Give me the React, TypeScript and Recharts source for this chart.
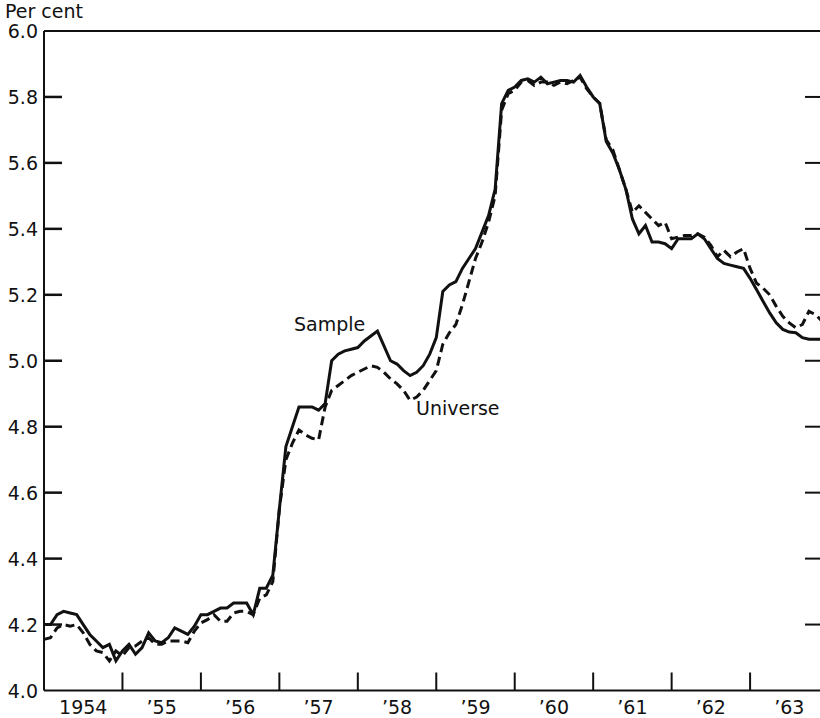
import React from "react";
import { LineChart, Line, XAxis, YAxis, ReferenceLine } from "recharts";

// monthly yields, Jan 1954 .. Dec 1963
const sample = [
  4.2, 4.2, 4.23, 4.24, 4.235, 4.23, 4.2, 4.17, 4.15, 4.13, 4.14, 4.09,
  4.12, 4.14, 4.11, 4.13, 4.175, 4.15, 4.145, 4.16, 4.19, 4.18, 4.17, 4.195,
  4.23, 4.23, 4.24, 4.25, 4.25, 4.265, 4.265, 4.265, 4.23, 4.31, 4.31, 4.35,
  4.55, 4.74, 4.8, 4.86, 4.86, 4.86, 4.85, 4.87, 5.0, 5.02, 5.03, 5.035,
  5.04, 5.06, 5.075, 5.09, 5.045, 5.0, 4.99, 4.97, 4.955, 4.965, 4.985, 5.02,
  5.07, 5.21, 5.23, 5.24, 5.28, 5.31, 5.34, 5.39, 5.44, 5.52, 5.78, 5.82,
  5.83, 5.85, 5.855, 5.845, 5.86, 5.84, 5.845, 5.85, 5.85, 5.845, 5.865, 5.83,
  5.8, 5.78, 5.665, 5.63, 5.58, 5.52, 5.43, 5.385, 5.41, 5.36, 5.36, 5.355,
  5.34, 5.37, 5.37, 5.37, 5.385, 5.37, 5.34, 5.31, 5.295, 5.29, 5.285, 5.28,
  5.25, 5.215, 5.18, 5.145, 5.115, 5.095, 5.087, 5.085, 5.07, 5.065, 5.065, 5.065,
];

const universe = [
  4.155, 4.16, 4.19, 4.2, 4.195, 4.2, 4.175, 4.14, 4.12, 4.115, 4.09, 4.12,
  4.105, 4.13, 4.135, 4.15, 4.16, 4.14, 4.14, 4.15, 4.15, 4.15, 4.145, 4.18,
  4.205, 4.215, 4.23, 4.21, 4.21, 4.235, 4.24, 4.24, 4.23, 4.28, 4.29, 4.33,
  4.55, 4.7, 4.75, 4.79, 4.775, 4.765, 4.76, 4.86, 4.91, 4.925, 4.94, 4.955,
  4.965, 4.975, 4.985, 4.98, 4.965, 4.945, 4.93, 4.91, 4.88, 4.89, 4.91, 4.94,
  4.97, 5.05, 5.085, 5.11, 5.17, 5.24, 5.31, 5.36, 5.42, 5.5, 5.76, 5.81,
  5.82, 5.845, 5.85, 5.835, 5.845, 5.845, 5.835, 5.845, 5.84, 5.85, 5.86, 5.825,
  5.8, 5.78, 5.67, 5.64, 5.58, 5.52, 5.45, 5.47, 5.45, 5.43, 5.41, 5.42,
  5.37, 5.375, 5.38, 5.38, 5.385, 5.375, 5.35, 5.315, 5.335, 5.315, 5.33, 5.34,
  5.28, 5.235, 5.22, 5.2, 5.165, 5.135, 5.115, 5.1, 5.11, 5.15, 5.14, 5.12,
];

const yearLabels = ["1954", "\u201955", "\u201956", "\u201957", "\u201958", "\u201959", "\u201960", "\u201961", "\u201962", "\u201963"];
const yTicks = [4.0, 4.2, 4.4, 4.6, 4.8, 5.0, 5.2, 5.4, 5.6, 5.8, 6.0];

const data = sample.map((s, i) => ({ m: i, sample: s, universe: universe[i] }));

const LAST = sample.length - 1;
const yearStarts = yearLabels.map((_, k) => k * 12).filter((v) => v > 0);
const yearMids = yearLabels.map((_, k) => k * 12 + 6);
const innerTicks = yTicks.slice(1, -1);

const FONT = "'DejaVu Sans', sans-serif";
const INK = "#111";

const axisLine = { stroke: INK, strokeWidth: 2 };
const tickLine = { stroke: INK, strokeWidth: 2 };

const YearLabel = ({ x, y, payload }: any) => (
  <text x={x} y={y + 22} textAnchor="middle" fontFamily={FONT} fontSize={19} fill={INK}>
    {yearLabels[Math.floor(payload.value / 12)]}
  </text>
);

// label plus an inward tick mark drawn as a filled rect
const YLabel = ({ x, y, payload }: any) => {
  const v = payload.value;
  const inner = v > 4.05 && v < 5.95;
  return (
    <g>
      {inner && <rect x={x} y={y - 1.25} width={18} height={2.5} fill={INK} stroke="none" />}
      <text x={x - 6} y={y + 7} textAnchor="end" fontFamily={FONT} fontSize={19} fill={INK}>
        {v.toFixed(1)}
      </text>
    </g>
  );
};

const NoLabel = () => <g />;

const textStyle: React.CSSProperties = {
  position: "absolute",
  fontFamily: FONT,
  fontSize: 19,
  lineHeight: "19px",
  color: INK,
  whiteSpace: "nowrap",
};

export default function App() {
  return (
    <div style={{ position: "absolute", left: 0, top: 0, width: 820, height: 718, overflow: "hidden", background: "#fff" }}>
      <LineChart width={830} height={718} data={data} margin={{ top: 30, right: 0, bottom: 0, left: 0 }}>
        {/* year boundary ticks, pointing up */}
        <XAxis
          xAxisId="b"
          dataKey="m"
          type="number"
          domain={[0, LAST]}
          ticks={yearStarts}
          tick={<NoLabel />}
          tickLine={tickLine}
          tickSize={-18}
          tickMargin={0}
          height={1}
          axisLine={axisLine}
          interval={0}
        />
        {/* year labels, mid-year */}
        <XAxis
          xAxisId="lbl"
          dataKey="m"
          type="number"
          domain={[0, LAST]}
          ticks={yearMids}
          tick={<YearLabel />}
          tickLine={false}
          tickSize={0}
          tickMargin={0}
          height={26.5}
          axisLine={false}
          interval={0}
        />
        <XAxis
          xAxisId="t"
          orientation="top"
          dataKey="m"
          type="number"
          domain={[0, LAST]}
          ticks={[]}
          tick={false}
          tickLine={false}
          height={1}
          axisLine={axisLine}
        />
        <YAxis
          yAxisId="l"
          type="number"
          domain={[4, 6]}
          ticks={yTicks}
          tick={<YLabel />}
          tickLine={false}
          tickSize={0}
          tickMargin={0}
          width={44}
          axisLine={axisLine}
          interval={0}
        />
        <YAxis
          yAxisId="r"
          orientation="right"
          type="number"
          domain={[4, 6]}
          ticks={[]}
          tick={false}
          tickLine={false}
          width={8}
          axisLine={axisLine}
        />
        {innerTicks.map((v) => (
          <ReferenceLine
            key={`r${v}`}
            xAxisId="b"
            yAxisId="l"
            segment={[{ x: LAST - 2.6, y: v }, { x: LAST, y: v }]}
            stroke={INK}
            strokeWidth={2}
            ifOverflow="visible"
          />
        ))}
        <Line
          xAxisId="b"
          yAxisId="l"
          type="linear"
          dataKey="universe"
          stroke={INK}
          strokeWidth={3}
          strokeDasharray="9 5"
          dot={false}
          isAnimationActive={false}
        />
        <Line
          xAxisId="b"
          yAxisId="l"
          type="linear"
          dataKey="sample"
          stroke={INK}
          strokeWidth={3}
          dot={false}
          isAnimationActive={false}
        />
      </LineChart>
      <div style={{ ...textStyle, left: 5, top: 2 }}>Per cent</div>
      <div style={{ ...textStyle, left: 294, top: 315 }}>Sample</div>
      <div style={{ ...textStyle, left: 416, top: 399 }}>Universe</div>
    </div>
  );
}
